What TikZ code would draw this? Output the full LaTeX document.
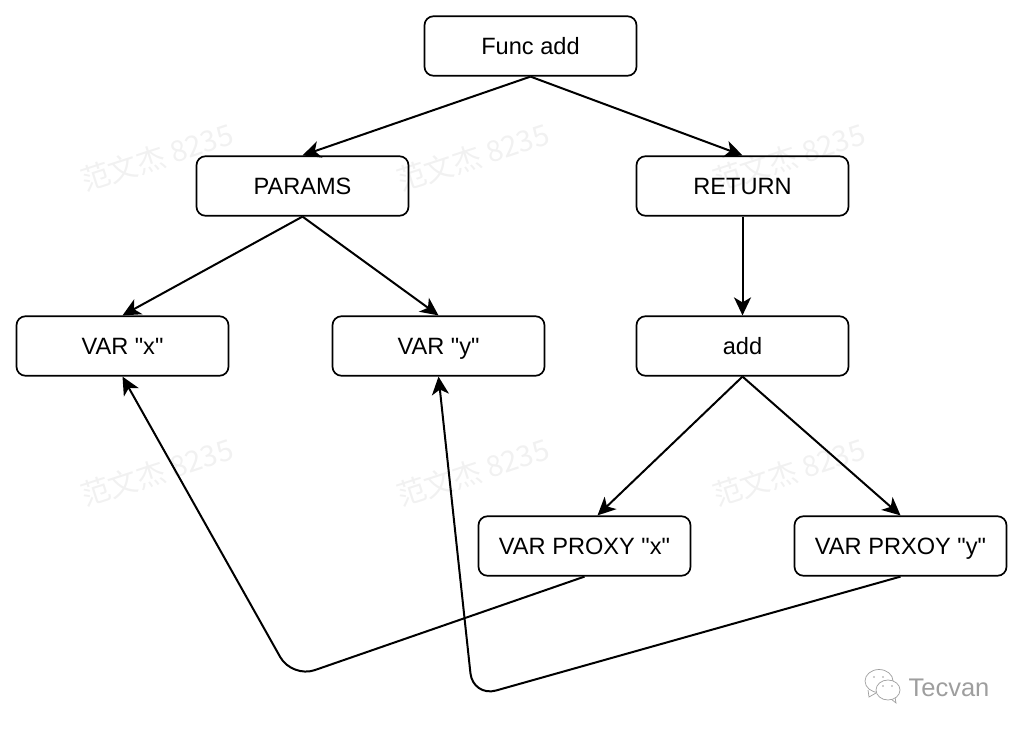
\documentclass[tikz,border=0pt]{standalone}
\usepackage{fontspec}
\setmainfont[Ligatures=TeXOff]{Liberation Sans}
\newfontfamily\cjkfont{Noto Sans CJK SC}
\usetikzlibrary{arrows.meta}
\definecolor{markgray}{gray}{0.945}
\definecolor{logogray}{gray}{0.62}
\tikzset{
  box/.style={draw=black,line width=1.7pt,rounded corners=9pt,minimum width=212pt,minimum height=59.5pt,inner sep=0pt,text height=17pt,text depth=0pt,font=\fontsize{23.6}{26}\selectfont},
  link/.style={draw=black,line width=2pt,-{Stealth[length=18pt,width=17pt,inset=5pt]}},
  bent/.style={link,rounded corners=24pt},
  stamp/.style={text=markgray,rotate=18,font=\cjkfont\fontsize{29}{32}\selectfont},
  bubble/.style={draw=logogray,line width=0.7pt,fill=white}
}
\begin{document}
\begin{tikzpicture}[x=1pt,y=-1pt]
\useasboundingbox (0,0) rectangle (1024,730);
% background stamps
\foreach \px/\py [count=\i] in {157/157,473/157,789/157,157/472,473/472,789/472}
  \node[stamp] (stamp\i) at (\px,\py) {范文杰 8235};
% tree nodes
\node[box] (func) at (530.5,46) {Func add};
\node[box] (params) at (302.5,186) {PARAMS};
\node[box] (ret) at (742.5,186) {RETURN};
\node[box] (varx) at (122.5,346) {VAR "x"};
\node[box] (vary) at (438.5,346) {VAR "y"};
\node[box] (addn) at (742.5,346) {add};
\node[box] (proxyx) at (584.5,546) {VAR PROXY "x"};
\node[box] (proxyy) at (900.5,546) {VAR PRXOY "y"};
% bend points of the proxy references
\coordinate (bendx) at (292,678);
\coordinate (bendy) at (473,697);
% tree edges
\draw[link] (func.south) -- (params.north);
\draw[link] (func.south) -- (ret.north);
\draw[link] (params.south) -- (varx.north);
\draw[link] (params.south) -- (vary.north);
\draw[link] (ret.south) -- (addn.north);
\draw[link] (addn.south) -- ([xshift=13pt]proxyx.north);
\draw[link] (addn.south) -- (proxyy.north);
% proxy references back to the variables
\draw[bent] (proxyx.south) -- (bendx) -- (varx.south);
\draw[bent] (proxyy.south) -- (bendy) -- (vary.south);
% footer logo
\begin{scope}[shift={(879,684)}]
  \draw[bubble] (-11,6) -- (-10,13) -- (-3,9);
  \draw[bubble] (0,-3) ellipse (14pt and 11.5pt);
  \fill[logogray] (-5,-7) circle (0.9pt) (4,-7) circle (0.9pt);
  \draw[bubble] (12,15) -- (17,19) -- (16,13);
  \draw[bubble] (9,6) ellipse (12pt and 10pt);
  \fill[logogray] (4,2) circle (0.8pt) (13,2) circle (0.8pt);
\end{scope}
\node[text=logogray,font=\fontsize{25.5}{28}\selectfont,inner sep=0pt] (brand) at (949,688) {Tecvan};
\end{tikzpicture}
\end{document}
